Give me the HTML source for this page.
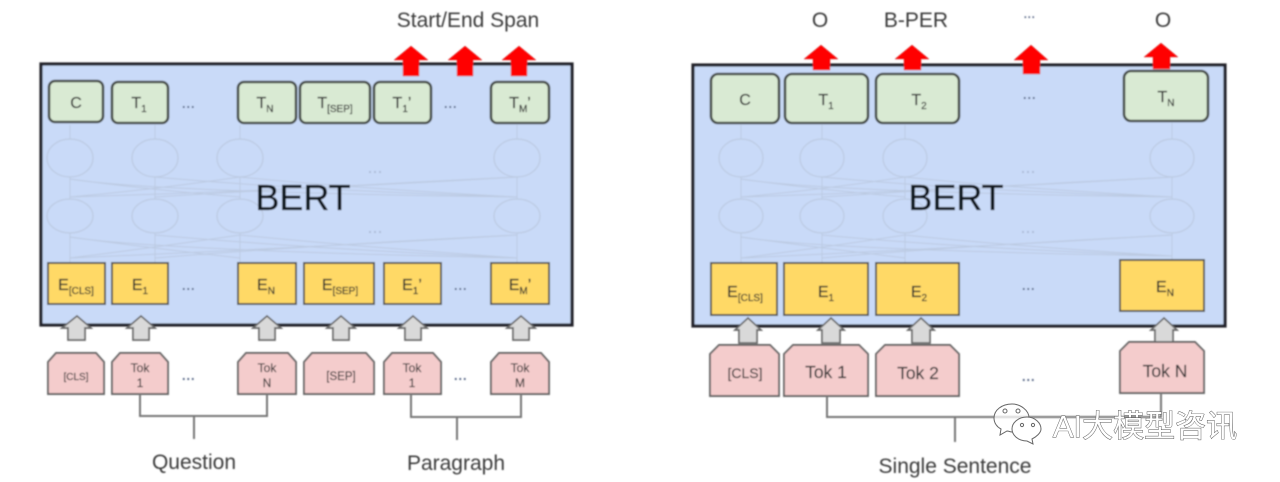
<!DOCTYPE html>
<html><head><meta charset="utf-8">
<style>
html,body{margin:0;padding:0;background:#fff;width:1280px;height:482px;overflow:hidden}
svg{display:block;font-family:"Liberation Sans",sans-serif}
text{text-anchor:middle;fill:#333}
.g rect{fill:#d9ead3;stroke:#474d4a;stroke-width:2.6}
.y rect{fill:#ffd966;stroke:#555;stroke-width:1.9}
.p path{fill:#f4cccc;stroke:#666;stroke-width:1.9}
.ga path{fill:#d9d9d9;stroke:#666;stroke-width:1.7}
.r path{fill:#f00;stroke:#c33;stroke-width:.5}
.c ellipse{fill:none;stroke:#bccae2;stroke-width:1.2}
.l path{fill:none;stroke:#bccae2;stroke-width:1}
.b path{fill:none;stroke:#777;stroke-width:2}
.t{font-size:16px;fill:#333;stroke:#333;stroke-width:.25}
.s{font-size:10px}
.k{fill:#333;stroke:#333;stroke-width:.15}
.d{font-size:18px;fill:#4a5a7c;letter-spacing:-.5px}
.f{font-size:18px;fill:#a9b8d4}
.m{font-size:21px;fill:#3a3a3a}
.big{font-size:36px;fill:#0e121c;stroke:#0e121c;stroke-width:.3}
</style></head><body>
<svg width="1280" height="482" viewBox="0 0 1280 482" xmlns="http://www.w3.org/2000/svg">
<defs><filter id="bl" x="-2%" y="-2%" width="104%" height="104%"><feGaussianBlur stdDeviation="0.75"/></filter></defs>
<g filter="url(#bl)">
<!-- panels -->
<rect x="41" y="64" width="531" height="261" fill="#c9daf8" stroke="#20242b" stroke-width="3.2"/>
<rect x="693" y="65" width="532" height="261" fill="#c9daf8" stroke="#20242b" stroke-width="3.2"/>

<!-- left network -->
<g class="c">
<ellipse cx="70" cy="158" rx="23" ry="19"/><ellipse cx="155" cy="158" rx="23" ry="19"/><ellipse cx="240" cy="158" rx="23" ry="19"/><ellipse cx="517" cy="158" rx="23" ry="19"/>
<ellipse cx="70" cy="216" rx="23" ry="17"/><ellipse cx="155" cy="216" rx="23" ry="17"/><ellipse cx="240" cy="216" rx="23" ry="17"/><ellipse cx="517" cy="216" rx="23" ry="17"/>
</g>
<g class="l">
<path d="M70 125V139M155 125V139M240 125V139M517 125V139M70 177V199M155 177V199M240 177V199M517 177V199M70 233V262M155 233V262M240 233V262M517 233V262"/>
<path d="M70 179Q150 192 517 197M155 177Q300 190 517 197M240 177Q350 188 517 197M517 177Q300 190 70 197M517 177Q300 188 155 197M240 177Q150 190 70 197M70 179Q150 190 240 197"/>
<path d="M70 237Q150 250 517 258M155 235Q300 248 517 258M240 235Q350 246 517 258M517 235Q300 248 70 258M517 235Q300 246 155 258M240 235Q150 248 70 258M70 237Q150 248 240 258"/>
</g>
<!-- right network -->
<g class="c">
<ellipse cx="741" cy="158" rx="22" ry="19"/><ellipse cx="822" cy="158" rx="22" ry="19"/><ellipse cx="905" cy="158" rx="22" ry="19"/><ellipse cx="1172" cy="158" rx="22" ry="19"/>
<ellipse cx="741" cy="216" rx="22" ry="17"/><ellipse cx="822" cy="216" rx="22" ry="17"/><ellipse cx="905" cy="216" rx="22" ry="17"/><ellipse cx="1172" cy="216" rx="22" ry="17"/>
</g>
<g class="l">
<path d="M741 125V139M822 125V139M905 125V139M1172 123V139M741 177V199M822 177V199M905 177V199M1172 177V199M741 233V262M822 233V262M905 233V262M1172 233V259"/>
<path d="M741 179Q820 192 1172 197M822 177Q960 190 1172 197M905 177Q1010 188 1172 197M1172 177Q960 190 741 197M1172 177Q960 188 822 197M905 177Q820 190 741 197M741 179Q820 190 905 197"/>
<path d="M741 237Q820 250 1172 256M822 235Q960 248 1172 256M905 235Q1010 246 1172 256M1172 235Q960 248 741 258M1172 235Q960 246 822 258M905 235Q820 248 741 258M741 237Q820 248 905 258"/>
</g>

<!-- BERT -->
<text class="big" x="303" y="210">BERT</text>
<text class="big" x="956" y="210">BERT</text>

<!-- red arrows -->
<g class="r">
<path d="M411 46L428 60H419V76H403V60H394Z"/>
<path d="M465 46L482 60H473V76H457V60H448Z"/>
<path d="M519 46L536 60H527V76H511V60H502Z"/>
<path d="M821 45L838 59H830V70H813V59H804Z"/>
<path d="M912 45L929 59H921V70H904V59H895Z"/>
<path d="M1031 45L1048 60H1040V74H1023V60H1014Z"/>
<path d="M1161 43L1178 57H1170V69H1153V57H1144Z"/>
</g>

<!-- T row -->
<g class="g">
<rect x="49" y="81" width="54" height="41" rx="6"/><rect x="112" y="82" width="56" height="41" rx="6"/>
<rect x="238" y="82" width="58" height="41" rx="6"/><rect x="300" y="82" width="70" height="41" rx="6"/>
<rect x="374" y="82" width="57" height="41" rx="6"/><rect x="491" y="82" width="58" height="41" rx="6"/>
<rect x="711" y="74" width="68" height="49" rx="7"/><rect x="785" y="74" width="83" height="49" rx="7"/>
<rect x="876" y="74" width="83" height="49" rx="7"/><rect x="1124" y="71" width="84" height="50" rx="7"/>
</g>
<!-- E row -->
<g class="y">
<rect x="48" y="263" width="57" height="41"/><rect x="112" y="263" width="56" height="41"/>
<rect x="238" y="263" width="58" height="41"/><rect x="304" y="263" width="70" height="41"/>
<rect x="384" y="263" width="57" height="41"/><rect x="491" y="263" width="58" height="41"/>
<rect x="711" y="263" width="66" height="52"/><rect x="784" y="263" width="84" height="52"/>
<rect x="876" y="263" width="83" height="52"/><rect x="1120" y="260" width="84" height="51"/>
</g>
<!-- Grey arrows -->
<g class="ga">
<path d="M77 316L91 328H85V340H68V328H62Z"/>
<path d="M141 316L155 328H149V340H133V328H127Z"/>
<path d="M267 316L281 328H275V340H259V328H253Z"/>
<path d="M341 316L355 328H349V340H333V328H327Z"/>
<path d="M413 316L427 328H421V340H405V328H399Z"/>
<path d="M521 316L535 328H529V340H513V328H507Z"/>
<path d="M748 318L761 330H757V343H739V330H735Z"/>
<path d="M831 318L844 330H840V343H822V330H818Z"/>
<path d="M921 318L934 330H930V343H912V330H908Z"/>
<path d="M1164 318L1177 330H1173V342H1155V330H1151Z"/>
</g>
<!-- Token row -->
<g class="p">
<path d="M48 394V362L56 353H96L104 362V394Z"/>
<path d="M112 394V362L120 353H160L168 362V394Z"/>
<path d="M238 394V362L246 353H288L296 362V394Z"/>
<path d="M304 394V362L312 353H366L374 362V394Z"/>
<path d="M384 394V362L392 353H433L441 362V394Z"/>
<path d="M491 394V362L499 353H541L549 362V394Z"/>
<path d="M710 396V354L719 345H770L779 354V396Z"/>
<path d="M784 396V354L793 345H859L868 354V396Z"/>
<path d="M876 396V354L885 345H950L959 354V396Z"/>
<path d="M1120 393V351L1129 342H1195L1204 351V393Z"/>
</g>
<!-- brackets -->
<g class="b">
<path d="M140 394V416H267V394M194 416V439"/>
<path d="M411 394V417H521V394M457 417V440"/>
<path d="M827 396V417H1161V393M955 417V442"/>
</g>

<!-- T labels -->
<text class="t" x="76" y="108">C</text>
<text class="t" x="139" y="108">T<tspan class="s" dy="4">1</tspan></text>
<text class="t" x="265" y="108">T<tspan class="s" dy="4">N</tspan></text>
<text class="t" x="335" y="108">T<tspan class="s" dy="4">[SEP]</tspan></text>
<text class="t" x="402" y="108">T<tspan class="s" dy="4">1</tspan><tspan dy="-4">’</tspan></text>
<text class="t" x="520" y="108">T<tspan class="s" dy="4">M</tspan><tspan dy="-4">’</tspan></text>
<text class="t" x="745" y="105">C</text>
<text class="t" x="826" y="105">T<tspan class="s" dy="4">1</tspan></text>
<text class="t" x="919" y="105">T<tspan class="s" dy="4">2</tspan></text>
<text class="t" x="1166" y="102">T<tspan class="s" dy="4">N</tspan></text>
<!-- E labels -->
<text class="t" x="76" y="290">E<tspan class="s" dy="4">[CLS]</tspan></text>
<text class="t" x="140" y="290">E<tspan class="s" dy="4">1</tspan></text>
<text class="t" x="266" y="290">E<tspan class="s" dy="4">N</tspan></text>
<text class="t" x="340" y="290">E<tspan class="s" dy="4">[SEP]</tspan></text>
<text class="t" x="412" y="290">E<tspan class="s" dy="4">1</tspan><tspan dy="-4">’</tspan></text>
<text class="t" x="520" y="290">E<tspan class="s" dy="4">M</tspan><tspan dy="-4">’</tspan></text>
<text class="t" x="745" y="297">E<tspan class="s" dy="4">[CLS]</tspan></text>
<text class="t" x="826" y="297">E<tspan class="s" dy="4">1</tspan></text>
<text class="t" x="919" y="297">E<tspan class="s" dy="4">2</tspan></text>
<text class="t" x="1165" y="292">E<tspan class="s" dy="4">N</tspan></text>
<!-- Tok labels -->
<text class="k" x="76" y="380" font-size="10">[CLS]</text>
<text class="k" x="140" y="372" font-size="12">Tok</text><text class="k" x="140" y="387" font-size="12">1</text>
<text class="k" x="267" y="372" font-size="12">Tok</text><text class="k" x="267" y="387" font-size="12">N</text>
<text class="k" x="341" y="380" font-size="11.5">[SEP]</text>
<text class="k" x="412" y="372" font-size="12">Tok</text><text class="k" x="412" y="387" font-size="12">1</text>
<text class="k" x="520" y="372" font-size="12">Tok</text><text class="k" x="520" y="387" font-size="12">M</text>
<text class="k" x="745" y="378" font-size="14">[CLS]</text>
<text class="k" x="826" y="378" font-size="17.5">Tok 1</text>
<text class="k" x="918" y="379" font-size="17.5">Tok 2</text>
<text class="k" x="1165" y="377" font-size="17.5">Tok N</text>
<!-- dots -->
<text class="d" x="188" y="108">...</text><text class="d" x="188" y="290">...</text><text class="d" x="188" y="380">...</text>
<text class="d" x="450" y="108">...</text><text class="d" x="460" y="290">...</text><text class="d" x="460" y="380">...</text>
<text class="d" x="1029" y="99">...</text><text class="d" x="1028" y="290">...</text><text class="d" x="1028" y="381">...</text>
<text class="d" x="1029" y="18" style="font-size:16px">...</text>
<text class="f" x="375" y="173">...</text>
<text class="f" x="375" y="233">...</text>
<text class="f" x="1028" y="173">...</text>
<text class="f" x="1028" y="233">...</text>
<!-- captions -->
<text class="m" x="468" y="27">Start/End Span</text>
<text class="m" x="820" y="27">O</text>
<text class="m" x="916" y="27">B-PER</text>
<text class="m" x="1163" y="27">O</text>
<text class="m" x="194" y="469">Question</text>
<text class="m" x="456" y="470">Paragraph</text>
<text class="m" x="955" y="473">Single Sentence</text>
</g>
<!-- watermark -->
<g fill="#fff" stroke="#666" stroke-width="1">
<path d="M1012 404c-10 0-18 6-18 14 0 5 3 9 7 11l-1 6 7-4c2 0 3 1 5 1 8 0 17-6 17-14s-9-14-17-14z" fill="#fff" fill-opacity=".7"/>
<path d="M1027 417c-9 0-15 6-15 12s6 12 15 12l6 3-1-5c4-2 9-6 9-10 0-6-6-12-14-12z"/>
<circle cx="1005" cy="411" r="2"/><circle cx="1018" cy="411" r="2"/><circle cx="1022" cy="425" r="1.6"/><circle cx="1033" cy="425" r="1.6"/>
</g>
<text x="1145" y="437" font-size="31" stroke="#555" stroke-width=".9" paint-order="stroke" style="fill:#fff;font-family:'Liberation Sans','Noto Sans CJK SC',sans-serif">AI大模型咨讯</text>
</svg>
</body></html>
